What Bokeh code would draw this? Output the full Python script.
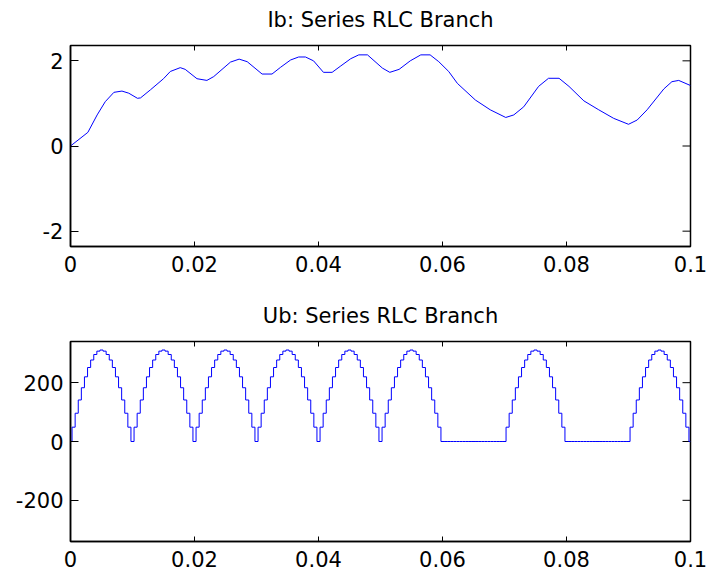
from bokeh.plotting import figure
from bokeh.models import FixedTicker, CustomJSTickFormatter, Range1d
from bokeh.core.properties import value
from bokeh.layouts import column
from bokeh.embed import file_html
from bokeh.resources import INLINE

# Branch current Ib (A) over time (s)
ib_t = [0, 0.0028, 0.0043, 0.0056, 0.0070, 0.0083, 0.0094, 0.0108, 0.0113, 0.0129,
        0.0150, 0.0161, 0.0177, 0.0185, 0.0204, 0.0220, 0.0231, 0.0258, 0.0272, 0.0285,
        0.0309, 0.0325, 0.0339, 0.0355, 0.0368, 0.0379, 0.0392, 0.0408, 0.0422, 0.0435,
        0.0452, 0.0465, 0.0479, 0.0503, 0.0515, 0.0530, 0.0548, 0.0565, 0.0580, 0.0594,
        0.0610, 0.0624, 0.0653, 0.0677, 0.0702, 0.0715, 0.0731, 0.0755, 0.0771, 0.0788,
        0.0804, 0.0828, 0.0852, 0.0876, 0.0900, 0.0914, 0.0930, 0.0957, 0.0970, 0.0981,
        0.1000]
ib = [0, 0.32, 0.73, 1.04, 1.26, 1.29, 1.24, 1.12, 1.13, 1.32,
      1.58, 1.75, 1.84, 1.80, 1.58, 1.54, 1.63, 1.97, 2.04, 1.98,
      1.69, 1.69, 1.85, 2.02, 2.09, 2.09, 2.00, 1.73, 1.73, 1.87,
      2.05, 2.14, 2.14, 1.83, 1.73, 1.80, 2.00, 2.14, 2.14, 1.98,
      1.75, 1.47, 1.08, 0.85, 0.67, 0.73, 0.92, 1.40, 1.59, 1.59,
      1.40, 1.06, 0.85, 0.65, 0.51, 0.61, 0.85, 1.34, 1.51, 1.54,
      1.42]

# Branch voltage Ub (V), sampled every 0.5 ms from 0 to 0.1 s
ub_dt = 0.0005
ub = [
    0, 48.7, 96.1, 141.2, 182.8, 219.9, 251.6, 277.1, 295.8, 307.2,
    311.0, 307.2, 295.8, 277.1, 251.6, 219.9, 182.8, 141.2, 96.1, 48.7,
    0, 48.7, 96.1, 141.2, 182.8, 219.9, 251.6, 277.1, 295.8, 307.2,
    311.0, 307.2, 295.8, 277.1, 251.6, 219.9, 182.8, 141.2, 96.1, 48.7,
    0, 48.7, 96.1, 141.2, 182.8, 219.9, 251.6, 277.1, 295.8, 307.2,
    311.0, 307.2, 295.8, 277.1, 251.6, 219.9, 182.8, 141.2, 96.1, 48.7,
    0, 48.7, 96.1, 141.2, 182.8, 219.9, 251.6, 277.1, 295.8, 307.2,
    311.0, 307.2, 295.8, 277.1, 251.6, 219.9, 182.8, 141.2, 96.1, 48.7,
    0, 48.7, 96.1, 141.2, 182.8, 219.9, 251.6, 277.1, 295.8, 307.2,
    311.0, 307.2, 295.8, 277.1, 251.6, 219.9, 182.8, 141.2, 96.1, 48.7,
    0, 48.7, 96.1, 141.2, 182.8, 219.9, 251.6, 277.1, 295.8, 307.2,
    311.0, 307.2, 295.8, 277.1, 251.6, 219.9, 182.8, 141.2, 96.1, 48.7,
    0, 0, 0, 0, 0, 0, 0, 0, 0, 0,
    0, 0, 0, 0, 0, 0, 0, 0, 0, 0,
    0, 48.7, 96.1, 141.2, 182.8, 219.9, 251.6, 277.1, 295.8, 307.2,
    311.0, 307.2, 295.8, 277.1, 251.6, 219.9, 182.8, 141.2, 96.1, 48.7,
    0, 0, 0, 0, 0, 0, 0, 0, 0, 0,
    0, 0, 0, 0, 0, 0, 0, 0, 0, 0,
    0, 48.7, 96.1, 141.2, 182.8, 219.9, 251.6, 277.1, 295.8, 307.2,
    311.0, 307.2, 295.8, 277.1, 251.6, 219.9, 182.8, 141.2, 96.1, 48.7,
    0,
]
ub_t = [i * ub_dt for i in range(len(ub))]

x_ticks = [0, 0.02, 0.04, 0.06, 0.08, 0.1]
ib_ticks = [-2, 0, 2]
ub_ticks = [-200, 0, 200]

FONT = "DejaVu Sans"
LINE = "#0000ff"
X_MAX = 0.1
WIDTH = 707
LEFT, RIGHT = 70, 17   # borders around the plot box
FRAME_W = WIDTH - LEFT - RIGHT
X_TICK_LEN = 5         # px, ticks on the top/bottom edges
Y_TICK_LEN = 8         # px, ticks on the left/right edges


def header(title, height, baseline_from_bottom):
    """A strip holding the centred subplot title."""
    h = figure(width=WIDTH, height=height, output_backend="svg", toolbar_location=None,
               x_range=Range1d(0, X_MAX), y_range=Range1d(0, height),
               min_border_left=LEFT, min_border_right=RIGHT,
               min_border_top=0, min_border_bottom=0,
               background_fill_color="white", border_fill_color="white",
               outline_line_color=None)
    h.axis.visible = False
    h.grid.visible = False
    h.text(x=[X_MAX / 2], y=[baseline_from_bottom], text=[title],
           text_align="center", text_baseline="alphabetic",
           text_font=value(FONT), text_font_size=value("21px"),
           text_color="black")
    return h


def style_axis(ax, ticks, tick_len, code, standoff):
    ax.ticker = FixedTicker(ticks=ticks)
    ax.formatter = CustomJSTickFormatter(code=code)
    ax.minor_tick_line_color = None
    ax.major_tick_in = tick_len
    ax.major_tick_out = 0
    ax.major_tick_line_color = "black"
    ax.axis_line_color = "black"
    ax.axis_line_width = 1.5
    ax.major_label_text_font = FONT
    ax.major_label_text_font_size = "21px"
    ax.major_label_text_color = "black"
    ax.major_label_standoff = standoff


def panel(height, top, bottom, ylim, yticks, draw):
    frame_h = height - top - bottom
    p = figure(width=WIDTH, height=height, output_backend="svg", toolbar_location=None,
               x_range=Range1d(0, X_MAX), y_range=Range1d(-ylim, ylim),
               min_border_left=LEFT, min_border_right=RIGHT,
               min_border_top=top, min_border_bottom=bottom,
               background_fill_color="white", border_fill_color="white",
               outline_line_color="black", outline_line_width=1.5)
    p.grid.visible = False

    style_axis(p.xaxis[0], x_ticks, X_TICK_LEN,
               "return tick.toFixed(2).replace(/\\.?0+$/, '');", 9)
    style_axis(p.yaxis[0], yticks, Y_TICK_LEN, "return tick.toString();", 7)

    # inward tick marks on the top and right edges of the box
    dy = 2 * ylim * X_TICK_LEN / frame_h
    dx = X_MAX * Y_TICK_LEN / FRAME_W
    p.segment(x0=x_ticks, y0=[ylim] * len(x_ticks),
              x1=x_ticks, y1=[ylim - dy] * len(x_ticks),
              line_color="black", line_width=1)
    p.segment(x0=[X_MAX] * len(yticks), y0=yticks,
              x1=[X_MAX - dx] * len(yticks), y1=yticks,
              line_color="black", line_width=1)

    draw(p)
    return p


h1 = header("Ib: Series RLC Branch", 43, 23.3)
p1 = panel(247, 2, 44, 2.36, ib_ticks,
           lambda p: p.line(ib_t, ib, line_color=LINE, line_width=1))
h2 = header("Ub: Series RLC Branch", 49, 24)
p2 = panel(238, 2, 36, 340, ub_ticks,
           lambda p: p.step(ub_t, ub, mode="center", line_color=LINE, line_width=1))

layout = column(h1, p1, h2, p2, spacing=0)
open("out.html", "w").write(file_html(layout, INLINE))
